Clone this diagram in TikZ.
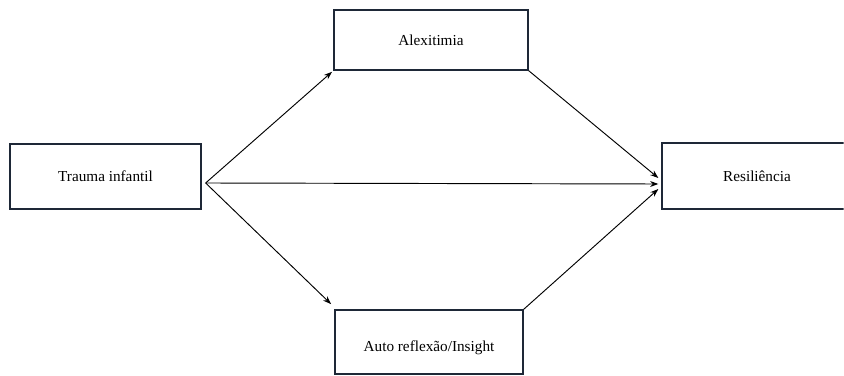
\documentclass[tikz,border=0pt]{standalone}
\usepackage{fontspec}
\setmainfont{Liberation Serif}
\usepackage{xcolor}
\usetikzlibrary{arrows.meta}

\definecolor{boxline}{RGB}{30,40,55}

\tikzset{
    varbox/.style={draw=boxline, line width=1.1pt, rectangle, fill=white, font=\fontsize{13}{15}\selectfont},
    path/.style={-{Stealth[length=7pt, width=5pt]}, line width=0.8pt, black}
}

\begin{document}
\begin{tikzpicture}[x=0.03cm, y=-0.03cm]
        \useasboundingbox (0,0) rectangle (844,376);
        \fill[white] (0,0) rectangle (844,376);
        \clip (0,0) rectangle (843.5,376);

        \node[varbox, minimum width=5.73cm, minimum height=1.95cm] (trauma) at (105.5,176.5) {Trauma infantil};
        \node[varbox, minimum width=5.82cm, minimum height=1.8cm] (alex) at (431,40) {Alexitimia};
        % box runs past the right edge of the picture
        \node[varbox, minimum width=6.6cm, minimum height=1.98cm] (resil) at (772,176) {\hspace{-0.9cm}Resiliência};
        \node[varbox, minimum width=5.64cm, minimum height=1.92cm] (insight) at (429,342) {\raisebox{-8.5pt}[0pt][0pt]{Auto reflexão/Insight}};

        % where the paths leave and meet the boxes
        \coordinate (src) at ([shift={(4,6.5)}]trauma.east);
        \coordinate (in1) at ([shift={(-3,2)}]resil.west);
        \coordinate (in2) at ([shift={(-3,8)}]resil.west);
        \coordinate (in3) at ([shift={(-3,13)}]resil.west);

        \draw[path, shorten >=1.5pt] (src) -- (alex.south west);
        \draw[path] (src) -- (in2);
        \draw[path, shorten >=1.5pt] (src) -- ([shift={(-2,-4)}]insight.north west);

        \draw[path] (alex.south east) -- (in1);
        \draw[path] (insight.north east) -- (in3);
    \end{tikzpicture}
\end{document}
